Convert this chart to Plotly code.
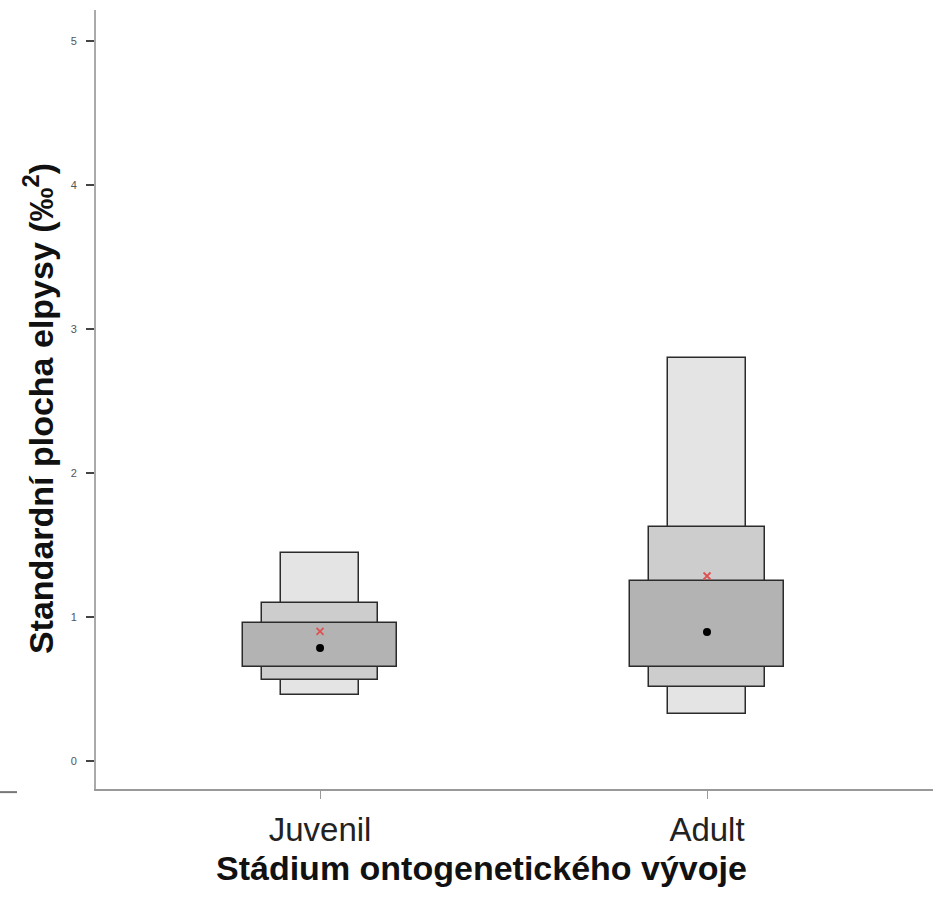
import plotly.graph_objects as go

# Ontogenetic stages
stages = ["Juvenil", "Adult"]
stage_pos = [1, 2]

# Credible intervals of the standard ellipse area (lower, upper)
ci95_low = [0.458, 0.326]
ci95_high = [1.444, 2.800]
ci75_low = [0.563, 0.514]
ci75_high = [1.097, 1.625]
ci50_low = [0.653, 0.653]
ci50_high = [0.958, 1.250]

# Posterior mode and sample estimate
mode_vals = [0.785, 0.896]
sample_vals = [0.900, 1.285]

fig = go.Figure()

levels = [
    (ci95_low, ci95_high, 0.20, "#e4e4e4"),
    (ci75_low, ci75_high, 0.30, "#cdcdcd"),
    (ci50_low, ci50_high, 0.40, "#b3b3b3"),
]
for lo, hi, w, col in levels:
    fig.add_trace(go.Bar(
        x=stage_pos,
        y=[h - l for l, h in zip(lo, hi)],
        base=lo,
        width=w,
        marker=dict(color=col, line=dict(color="#2b2b2b", width=1.5)),
        showlegend=False,
        hoverinfo="skip",
    ))

fig.add_trace(go.Scatter(
    x=stage_pos, y=sample_vals, mode="markers",
    marker=dict(symbol="x-thin", size=7, color="#e05050",
                line=dict(color="#e05050", width=1.8)),
    showlegend=False,
))
fig.add_trace(go.Scatter(
    x=stage_pos, y=mode_vals, mode="markers",
    marker=dict(symbol="circle", size=8, color="black"),
    showlegend=False,
))

fig.update_layout(
    width=942, height=922,
    margin=dict(l=96, r=9, t=10, b=133),
    plot_bgcolor="white", paper_bgcolor="white",
    barmode="overlay", bargap=0,
    font=dict(family="Liberation Sans, Arial, sans-serif", color="#222"),
    xaxis=dict(
        range=[0.421, 2.584],
        tickmode="array", tickvals=stage_pos, ticktext=stages,
        ticks="outside", ticklen=8, tickcolor="#999", tickwidth=1,
        showline=True, linecolor="#999", linewidth=2,
        showgrid=False, zeroline=False,
        tickfont=dict(size=33, color="#222"),
        ticklabelstandoff=2,
    ),
    yaxis=dict(
        range=[-0.194, 5.215],
        tickmode="array", tickvals=[0, 1, 2, 3, 4, 5],
        ticks="outside", ticklen=8, tickcolor="#444", tickwidth=1.5,
        showline=True, linecolor="#aaa", linewidth=2,
        showgrid=False, zeroline=False,
        tickfont=dict(size=11, color="#555"),
        ticklabelstandoff=7,
    ),
    annotations=[
        dict(
            text="<b>Stádium ontogenetického vývoje</b>",
            xref="paper", yref="paper", x=0.46, y=-0.1014,
            xanchor="center", yanchor="middle", showarrow=False,
            font=dict(size=34, color="#111"),
        ),
        dict(
            text="<b>Standardní plocha elpysy (‰<sup>2</sup>)</b>",
            xref="paper", yref="paper", x=-0.0693, y=0.489,
            xanchor="center", yanchor="middle", showarrow=False,
            textangle=-90,
            font=dict(size=34, color="#111"),
        ),
    ],
    shapes=[dict(type="line", xref="paper", yref="paper",
                 x0=-0.1147, x1=-0.0944, y0=-0.004, y1=-0.004,
                 line=dict(color="#777", width=2))],
)

fig.write_html("out.html")
